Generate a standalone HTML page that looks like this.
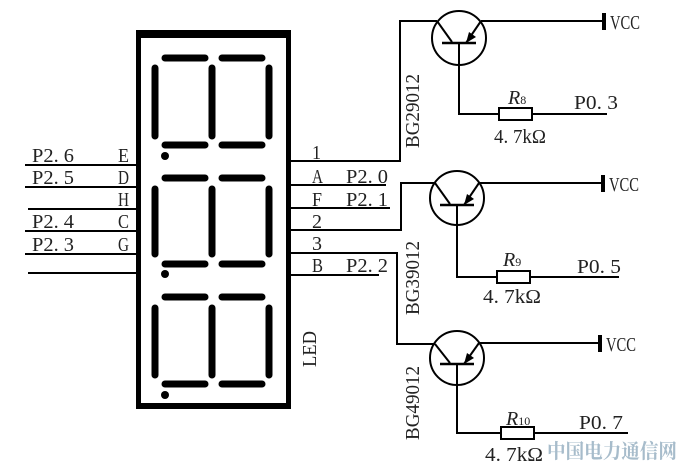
<!DOCTYPE html>
<html><head><meta charset="utf-8"><style>
html,body{margin:0;padding:0;background:#fff;}
svg{display:block;}
text{font-family:"Liberation Serif","Noto Serif CJK SC",serif;font-size:20px;fill:#222;}
</style></head><body>
<svg width="684" height="467" viewBox="0 0 684 467" xmlns="http://www.w3.org/2000/svg">
<g fill="none" stroke="#000">
<rect x="138.5" y="35" width="150" height="371" stroke-width="5"/>
<line x1="136" y1="34" x2="291" y2="34" stroke-width="8"/>
<line x1="136" y1="406" x2="291" y2="406" stroke-width="6"/>
</g>
<g stroke="#000" stroke-width="7" stroke-linecap="round">
<line x1="165" y1="58" x2="205" y2="58"/><line x1="222" y1="58" x2="262" y2="58"/>
<line x1="155" y1="68" x2="155" y2="136"/><line x1="212" y1="68" x2="212" y2="136"/><line x1="269" y1="68" x2="269" y2="136"/>
<line x1="165" y1="145" x2="205" y2="145"/><line x1="222" y1="145" x2="262" y2="145"/>
<line x1="165" y1="178" x2="205" y2="178"/><line x1="222" y1="178" x2="262" y2="178"/>
<line x1="155" y1="189" x2="155" y2="254"/><line x1="212" y1="189" x2="212" y2="254"/><line x1="269" y1="189" x2="269" y2="254"/>
<line x1="165" y1="264" x2="205" y2="264"/><line x1="222" y1="264" x2="262" y2="264"/>
<line x1="165" y1="297" x2="205" y2="297"/><line x1="222" y1="297" x2="262" y2="297"/>
<line x1="155" y1="308" x2="155" y2="375"/><line x1="212" y1="308" x2="212" y2="375"/><line x1="269" y1="308" x2="269" y2="375"/>
<line x1="165" y1="384" x2="205" y2="384"/><line x1="222" y1="384" x2="262" y2="384"/>
</g>
<g fill="#000"><circle cx="165" cy="156" r="4"/><circle cx="165" cy="274" r="4"/><circle cx="165" cy="395" r="4"/></g>
<g stroke="#000" stroke-width="2">
<line x1="25" y1="165" x2="137" y2="165"/>
<line x1="25" y1="187" x2="137" y2="187"/>
<line x1="28" y1="209" x2="137" y2="209"/>
<line x1="25" y1="231" x2="137" y2="231"/>
<line x1="25" y1="254" x2="137" y2="254"/>
<line x1="28" y1="273" x2="137" y2="273"/>
</g>
<g>
<text x="32" y="162" textLength="42" lengthAdjust="spacingAndGlyphs">P2. 6</text>
<text x="118" y="162" textLength="11" lengthAdjust="spacingAndGlyphs">E</text>
<text x="32" y="184" textLength="42" lengthAdjust="spacingAndGlyphs">P2. 5</text>
<text x="118" y="184" textLength="11" lengthAdjust="spacingAndGlyphs">D</text>
<text x="118" y="206" textLength="11" lengthAdjust="spacingAndGlyphs">H</text>
<text x="32" y="228" textLength="42" lengthAdjust="spacingAndGlyphs">P2. 4</text>
<text x="118" y="228" textLength="11" lengthAdjust="spacingAndGlyphs">C</text>
<text x="32" y="251" textLength="42" lengthAdjust="spacingAndGlyphs">P2. 3</text>
<text x="118" y="251" textLength="11" lengthAdjust="spacingAndGlyphs">G</text>
</g>
<g stroke="#000" stroke-width="2" fill="none">
<polyline points="290,161 400,161 400,21 437,21"/>
<line x1="290" y1="185" x2="386" y2="185"/>
<line x1="290" y1="208" x2="390" y2="208"/>
<polyline points="290,230 401,230 401,183 435,183"/>
<polyline points="290,253 397,253 397,344 435,344"/>
<line x1="290" y1="275" x2="379" y2="275"/>
</g>
<g>
<text x="312" y="159" textLength="9" lengthAdjust="spacingAndGlyphs">1</text>
<text x="312" y="183" textLength="11" lengthAdjust="spacingAndGlyphs">A</text><text x="346" y="183" textLength="42" lengthAdjust="spacingAndGlyphs">P2. 0</text>
<text x="312" y="206" textLength="10" lengthAdjust="spacingAndGlyphs">F</text><text x="346" y="206" textLength="42" lengthAdjust="spacingAndGlyphs">P2. 1</text>
<text x="312" y="228" textLength="10" lengthAdjust="spacingAndGlyphs">2</text>
<text x="312" y="250" textLength="10" lengthAdjust="spacingAndGlyphs">3</text>
<text x="312" y="272" textLength="11" lengthAdjust="spacingAndGlyphs">B</text><text x="346" y="272" textLength="42" lengthAdjust="spacingAndGlyphs">P2. 2</text>
<text transform="translate(316,367) rotate(-90)" textLength="36" lengthAdjust="spacingAndGlyphs">LED</text>
<text transform="translate(419,148) rotate(-90)" textLength="74" lengthAdjust="spacingAndGlyphs">BG29012</text>
<text transform="translate(419,315) rotate(-90)" textLength="74" lengthAdjust="spacingAndGlyphs">BG39012</text>
<text transform="translate(419,440) rotate(-90)" textLength="74" lengthAdjust="spacingAndGlyphs">BG49012</text>
</g>
<g stroke="#000" stroke-width="2" fill="none">
<circle cx="459" cy="38" r="27"/>
<line x1="437" y1="21" x2="452" y2="42"/>
<line x1="442" y1="43" x2="476" y2="43" stroke-width="2.5"/>
<line x1="466" y1="43" x2="481" y2="21"/>
<line x1="481" y1="21" x2="603" y2="21"/>
<line x1="604" y1="13" x2="604" y2="30" stroke-width="4"/>
<polyline points="459,43 459,114 499,114"/>
<rect x="499" y="108" width="33" height="12"/>
<line x1="532" y1="114" x2="607" y2="114"/>
</g>
<polygon points="466,43 469,32 476,37" fill="#000"/>
<g stroke="#000" stroke-width="2" fill="none">
<circle cx="457" cy="198" r="27"/>
<line x1="435" y1="183" x2="450" y2="204"/>
<line x1="440" y1="205" x2="474" y2="205" stroke-width="2.5"/>
<line x1="464" y1="205" x2="479" y2="183"/>
<line x1="479" y1="183" x2="602" y2="183"/>
<line x1="603" y1="175" x2="603" y2="192" stroke-width="4"/>
<polyline points="457,205 457,277 497,277"/>
<rect x="497" y="271" width="33" height="12"/>
<line x1="530" y1="277" x2="619" y2="277"/>
</g>
<polygon points="464,205 467,194 474,199" fill="#000"/>
<g stroke="#000" stroke-width="2" fill="none">
<circle cx="457" cy="358" r="27"/>
<line x1="435" y1="344" x2="450" y2="363"/>
<line x1="440" y1="364" x2="474" y2="364" stroke-width="2.5"/>
<line x1="464" y1="364" x2="479" y2="343"/>
<line x1="479" y1="343" x2="599" y2="343"/>
<line x1="600" y1="335" x2="600" y2="352" stroke-width="4"/>
<polyline points="457,364 457,433 501,433"/>
<rect x="501" y="427" width="33" height="12"/>
<line x1="534" y1="433" x2="628" y2="433"/>
</g>
<polygon points="464,364 467,353 474,358" fill="#000"/>
<g>
<text x="610" y="29" font-size="17" textLength="30" lengthAdjust="spacingAndGlyphs">VCC</text>
<text x="609" y="191" font-size="17" textLength="30" lengthAdjust="spacingAndGlyphs">VCC</text>
<text x="606" y="351" font-size="17" textLength="30" lengthAdjust="spacingAndGlyphs">VCC</text>
<text x="508" y="104" font-style="italic">R<tspan font-size="12" font-style="normal">8</tspan></text>
<text x="503" y="266" font-style="italic">R<tspan font-size="12" font-style="normal">9</tspan></text>
<text x="506" y="425" font-style="italic">R<tspan font-size="12" font-style="normal">10</tspan></text>
<text x="574" y="109" textLength="44" lengthAdjust="spacingAndGlyphs">P0. 3</text>
<text x="577" y="273" textLength="44" lengthAdjust="spacingAndGlyphs">P0. 5</text>
<text x="579" y="429" textLength="44" lengthAdjust="spacingAndGlyphs">P0. 7</text>
<text x="494" y="143" textLength="52" lengthAdjust="spacingAndGlyphs">4. 7kΩ</text>
<text x="483" y="303" textLength="58" lengthAdjust="spacingAndGlyphs">4. 7kΩ</text>
<text x="485" y="461" textLength="58" lengthAdjust="spacingAndGlyphs">4. 7kΩ</text>
<text x="547" y="458" font-family="'Noto Sans CJK SC',sans-serif" font-weight="bold" font-size="18" style="fill:#a7bccb" textLength="130" lengthAdjust="spacingAndGlyphs">中国电力通信网</text>
</g>
</svg>
</body></html>
